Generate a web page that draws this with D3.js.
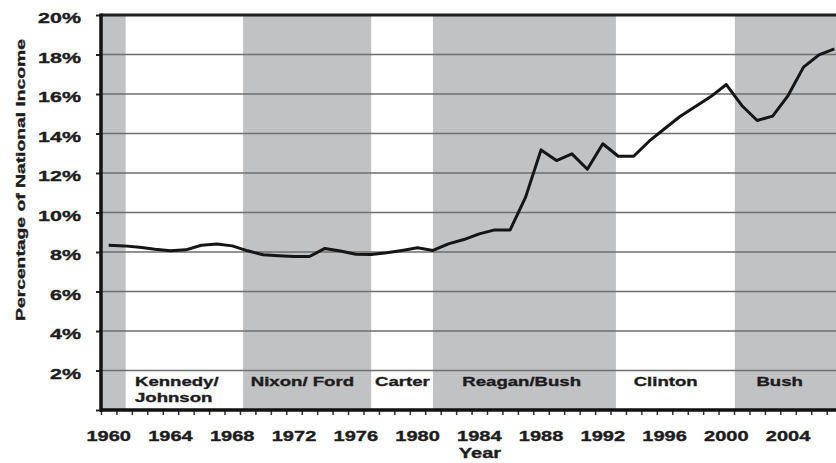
<!DOCTYPE html>
<html>
<head>
<meta charset="utf-8">
<script src="https://cdn.jsdelivr.net/npm/d3@7/dist/d3.min.js"></script>
<style>
  html, body { margin: 0; padding: 0; background: #fff; }
  svg { display: block; }
  text { font-family: "Liberation Sans", Arial, sans-serif; font-weight: bold; fill: #1c1c1c; stroke: #1c1c1c; stroke-width: 0.35px; }
</style>
</head>
<body>
<svg id="chart" width="836" height="463"></svg>
<script>
// ---- data ----
const years = [1960,1961,1962,1963,1964,1965,1966,1967,1968,1969,
               1970,1971,1972,1973,1974,1975,1976,1977,1978,1979,
               1980,1981,1982,1983,1984,1985,1986,1987,1988,1989,
               1990,1991,1992,1993,1994,1995,1996,1997,1998,1999,
               2000,2001,2002,2003,2004,2005,2006,2007];
const shareValues = [8.34,8.31,8.24,8.14,8.06,8.11,8.34,8.41,8.31,8.06,
                     7.86,7.81,7.77,7.77,8.18,8.05,7.89,7.87,7.96,8.08,
                     8.21,8.08,8.41,8.63,8.92,9.12,9.12,10.78,13.17,12.63,
                     12.97,12.19,13.48,12.85,12.85,13.61,14.24,14.86,15.37,15.87,
                     16.48,15.42,14.66,14.88,15.92,17.36,17.98,18.29];
const xTickLabels = [1960,1964,1968,1972,1976,1980,1984,1988,1992,1996,2000,2004];
const yTickValues = [2,4,6,8,10,12,14,16,18,20];
// shaded (gray) administrations: [start, end] in year units
const shadeStarts = [1960, 1969.2, 1981.5, 2001.05];
const shadeEnds   = [1961.6, 1977.5, 1993.35, 2008];
// administration labels: lines, start position (year units)
const adminNames = [["Kennedy/","Johnson"],["Nixon/ Ford"],["Carter"],["Reagan/Bush"],["Clinton"],["Bush"]];
const adminLabelPos = [1962.2, 1969.7, 1977.75, 1983.4, 1994.5, 2002.45];

// ---- layout ----
const svg = d3.select("#chart");
const L = 101, T = 15, B = 410, bandW = 15.44;
const R = L + years.length * bandW;
const SX = 1.43; // wide lettering

const xLin = d3.scaleLinear().domain([1960, 1960 + years.length]).range([L, R]);
const xBand = d3.scaleBand().domain(years).range([L, R]).padding(0);
const y = d3.scaleLinear().domain([0, 20]).range([B, T]);

const plot = svg.append("g");
// shading
plot.selectAll("rect.shade").data(shadeStarts).enter().append("rect")
  .attr("class", "shade")
  .attr("x", d => xLin(d))
  .attr("y", y(20))
  .attr("width", (d, i) => xLin(shadeEnds[i]) - xLin(d))
  .attr("height", y(0) - y(20))
  .attr("fill", "#c1c2c4");

// gridlines
plot.selectAll("line.grid").data(yTickValues.filter(v => v < 20)).enter().append("line")
  .attr("x1", L).attr("x2", 836)
  .attr("y1", d => y(d)).attr("y2", d => y(d))
  .attr("stroke", "#6e6e6e").attr("stroke-width", 1.3);

// top border
plot.append("line").attr("x1", L).attr("x2", 836).attr("y1", y(20)).attr("y2", y(20))
  .attr("stroke", "#1e1e1e").attr("stroke-width", 3);

function wideText(g, x, yy, str, size, anchor, rotate) {
  return g.append("text")
    .attr("transform", `translate(${x},${yy})` + (rotate ? ` rotate(${rotate})` : "") + ` scale(${SX},1)`)
    .attr("font-size", size)
    .attr("text-anchor", anchor)
    .text(str);
}

// admin labels
adminNames.forEach((lines, i) => {
  lines.forEach((ln, j) => {
    wideText(svg, xLin(adminLabelPos[i]), 386 + j * 16, ln, 13, "start");
  });
});

// line
const line = d3.line()
  .x((d, i) => xBand(years[i]) + xBand.bandwidth() / 2)
  .y(d => y(d))
  .curve(d3.curveLinear);
svg.append("path").datum(shareValues)
  .attr("d", line)
  .attr("fill", "none")
  .attr("stroke", "#151515")
  .attr("stroke-width", 3)
  .attr("stroke-linejoin", "round");

// x axis ticks (band boundaries)
const xAxis = d3.axisBottom(xLin)
  .tickValues(d3.range(1960, 1960 + years.length + 1))
  .tickSize(5).tickFormat("");
const gx = svg.append("g").attr("transform", `translate(0,${B})`).call(xAxis);
gx.select(".domain").remove();
gx.selectAll(".tick line").attr("stroke", "#333").attr("stroke-width", 1.5);
svg.append("line").attr("x1", L - 1).attr("x2", 836).attr("y1", B).attr("y2", B)
  .attr("stroke", "#111").attr("stroke-width", 3.5);

// x labels
xTickLabels.forEach(yr => {
  wideText(svg, xBand(yr) + xBand.bandwidth() / 2, 441, String(yr), 14, "middle");
});

// y axis
const yAxis = d3.axisLeft(y).tickValues([0].concat(yTickValues)).tickSize(5).tickFormat("");
const gy = svg.append("g").attr("transform", `translate(${L},0)`).call(yAxis);
gy.select(".domain").remove();
gy.selectAll(".tick line").attr("stroke", "#222").attr("stroke-width", 2);
svg.append("line").attr("x1", L).attr("x2", L).attr("y1", T - 1.5).attr("y2", B + 1.5)
  .attr("stroke", "#111").attr("stroke-width", 3.5);

yTickValues.forEach(v => {
  wideText(svg, 81, y(v) + 8.4, v + "%", 15, "end");
});

// axis titles
wideText(svg, 480, 458, "Year", 14, "middle");
wideText(svg, 25, 180, "Percentage of National Income", 13.5, "middle", -90);
</script>
</body>
</html>
